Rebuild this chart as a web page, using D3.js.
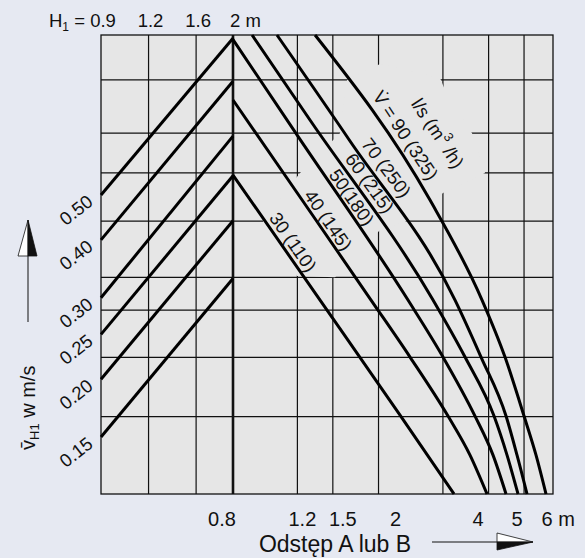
<!DOCTYPE html>
<html>
<head>
<meta charset="utf-8">
<script src="https://cdn.jsdelivr.net/npm/d3@7"></script>
<style>
  body { margin: 0; background: #e6e9f2; }
  svg { display: block; font-family: "Liberation Sans", Arial, sans-serif; }
</style>
</head>
<body>
<script>
/* Data
   ========================================================================== */
// H1 scale on the left part of the chart (m)
var hValues = [0.9, 1.2, 1.6, 2];
// distance A or B (m), log axis
var distGrid = [0.8, 1.2, 1.5, 2, 3, 4, 5, 6];
var distLabels = ["0.8", "1.2", "1.5", "2", "", "4", "5", "6"];
// auxiliary level (velocity at H1 = 0.9 m) of the horizontal grid lines
var levelGrid = [0.886, 0.680, 0.558, 0.439, 0.332, 0.282, 0.223, 0.166];
// velocity lines: value at H1 = 0.9 and value reached at H1 = 2 m
var velocities = [0.50, 0.40, 0.30, 0.25, 0.20, 0.15];
var levelAtH2 = [1.09, 0.88, 0.67, 0.55, 0.44, 0.33];
// volume flow curves
var flowLs = [30, 40, 50, 60, 70, 90];
var flowM3h = [110, 145, 180, 215, 250, 325];
var curve30 = [[0.8, 0.552], [1.384, 0.2965], [2.29, 0.1673], [3.217, 0.113]];
var curve40 = [[0.8, 0.802], [1.22, 0.495], [1.908, 0.2965], [2.439, 0.2233], [3.098, 0.1665], [3.558, 0.1371], [3.96, 0.113]];
var curve50 = [[0.795, 1.091], [1.197, 0.674], [2.408, 0.2965], [3.002, 0.2233], [3.672, 0.1665], [4.113, 0.1371], [4.464, 0.113]];
var curve60 = [[0.902, 1.108], [1.299, 0.726], [2.819, 0.2965], [3.448, 0.2233], [4.139, 0.1665], [4.492, 0.1371], [4.814, 0.113]];
var curve70 = [[1.055, 1.108], [1.671, 0.654], [3.238, 0.2965], [3.814, 0.2233], [4.464, 0.1665], [4.784, 0.1371], [5.095, 0.113]];
var curve90 = [[1.341, 1.108], [2.766, 0.4875], [3.838, 0.2965], [4.435, 0.2233], [5.0, 0.1665], [5.392, 0.1371], [5.742, 0.113]];
var flowCurves = [curve30, curve40, curve50, curve60, curve70, curve90];
// area around the curve labels where the grid is left out
var labelGap = [[1.569, 0.680], [1.640, 0.886], [2.019, 0.959], [2.946, 0.895], [3.040, 0.843],
                [3.603, 0.680], [3.911, 0.558], [3.002, 0.505], [2.393, 0.439], [2.019, 0.420],
                [1.521, 0.332], [1.197, 0.334], [0.966, 0.439], [1.220, 0.558]];

/* Layout
   ========================================================================== */
var W = 585, H = 558;
var margin = { top: 35, right: 32, bottom: 64, left: 101 };
var plotBg = "#e6e6e6", ink = "#111";

var svg = d3.select("body").append("svg")
    .attr("width", W)
    .attr("height", H);

var hScale = d3.scaleLog().domain([0.9, 2]).range([margin.left, 233]);
var x = d3.scaleLog().domain([0.8, 6]).range([233, W - margin.right]);
var y = d3.scaleLog().domain([0.113, 1.108]).range([H - margin.bottom, margin.top]);

var x0 = margin.left, x1 = W - margin.right, y0 = margin.top, y1 = H - margin.bottom;

// plot background
svg.append("rect")
    .attr("x", x0).attr("y", y0)
    .attr("width", x1 - x0).attr("height", y1 - y0)
    .attr("fill", plotBg);

/* Grid
   ========================================================================== */
var grid = svg.append("g").attr("stroke", ink).attr("stroke-width", 1.2);

grid.selectAll(".hl").data(levelGrid).enter().append("line")
    .attr("x1", x0).attr("x2", x1)
    .attr("y1", function(d) { return y(d); })
    .attr("y2", function(d) { return y(d); });

grid.selectAll(".vh").data(hValues.slice(1, 3)).enter().append("line")
    .attr("x1", function(d) { return hScale(d); })
    .attr("x2", function(d) { return hScale(d); })
    .attr("y1", y0).attr("y2", y1);

grid.selectAll(".vd").data(distGrid.slice(1, -1)).enter().append("line")
    .attr("x1", function(d) { return x(d); })
    .attr("x2", function(d) { return x(d); })
    .attr("y1", y0).attr("y2", y1);

// blank the grid behind the labels
svg.append("path")
    .attr("d", d3.line().x(function(d) { return x(d[0]); }).y(function(d) { return y(d[1]); })(labelGap) + "Z")
    .attr("fill", plotBg);

// heavy line at 0.8 m and frame
svg.append("line")
    .attr("x1", x(0.8)).attr("x2", x(0.8))
    .attr("y1", y0).attr("y2", y1)
    .attr("stroke", ink).attr("stroke-width", 2.6);
svg.append("rect")
    .attr("x", x0).attr("y", y0)
    .attr("width", x1 - x0).attr("height", y1 - y0)
    .attr("fill", "none").attr("stroke", ink).attr("stroke-width", 1.3);

/* Velocity lines (left part)
   ========================================================================== */
svg.selectAll(".vel").data(velocities).enter().append("line")
    .attr("x1", hScale(0.9))
    .attr("y1", function(d) { return y(d); })
    .attr("x2", hScale(2))
    .attr("y2", function(d, i) { return y(levelAtH2[i]); })
    .attr("stroke", "#000").attr("stroke-width", 3);

svg.selectAll(".vlab").data(velocities).enter().append("text")
    .attr("transform", function(d) {
        return "translate(" + (hScale(0.9) - 25) + "," + (y(d) + 15) + ") rotate(-38)";
    })
    .attr("text-anchor", "middle")
    .attr("dy", "0.35em")
    .attr("font-size", 18.5)
    .attr("fill", ink)
    .text(function(d) { return d.toFixed(2); });

/* Flow curves
   ========================================================================== */
var line = d3.line()
    .x(function(d) { return x(d[0]); })
    .y(function(d) { return y(d[1]); })
    .curve(d3.curveMonotoneX);

var paths = svg.selectAll(".flow").data(flowCurves).enter().append("path")
    .attr("d", line)
    .attr("fill", "none")
    .attr("stroke", "#000")
    .attr("stroke-width", 3);

// label placement along each curve: fraction of length, offset to the upper right
var labelPlace = [[0.23, 11], [0.326, 10], [0.373, 10], [0.354, 12], [0.326, 14], [0.258, 13]];

function placeOnPath(node, frac, off) {
    var L = node.getTotalLength();
    var p = node.getPointAtLength(frac * L);
    var a = node.getPointAtLength(Math.max(0, frac * L - 3));
    var b = node.getPointAtLength(Math.min(L, frac * L + 3));
    var dx = b.x - a.x, dy = b.y - a.y, n = Math.sqrt(dx * dx + dy * dy);
    var ux = dx / n, uy = dy / n;
    return { x: p.x + uy * off, y: p.y - ux * off, ux: ux, uy: uy,
             angle: Math.atan2(dy, dx) * 180 / Math.PI };
}

paths.each(function(d, i) {
    var pos = placeOnPath(this, labelPlace[i][0], labelPlace[i][1]);
    var sep = (flowLs[i] === 50) ? "" : " ";
    var t = svg.append("text")
        .attr("transform", "translate(" + pos.x + "," + pos.y + ") rotate(" + pos.angle + ")")
        .attr("text-anchor", "middle")
        .attr("dy", "0.35em")
        .attr("font-size", 18.5)
        .attr("fill", ink);
    if (flowLs[i] === 90) {
        t.text("V\u0307 = " + flowLs[i] + " (" + flowM3h[i] + ")");
        // unit line above
        var q = { x: pos.x + pos.uy * 28 + pos.ux * 16, y: pos.y - pos.ux * 28 + pos.uy * 16 };
        var u = svg.append("text")
            .attr("transform", "translate(" + q.x + "," + q.y + ") rotate(" + pos.angle + ")")
            .attr("text-anchor", "middle")
            .attr("dy", "0.35em")
            .attr("font-size", 18.5)
            .attr("fill", ink);
        u.append("tspan").text("l/s (m");
        u.append("tspan").attr("font-size", 13).attr("dy", "-0.7em").text("3");
        u.append("tspan").attr("dy", "0.5em").text(" /h)");
    } else {
        t.text(flowLs[i] + sep + "(" + flowM3h[i] + ")");
    }
});

/* Axis texts
   ========================================================================== */
// top: H1 values
var topAxis = svg.append("g").attr("font-size", 18.5).attr("fill", ink);
var hLab = topAxis.append("text").attr("x", 85).attr("y", 27).attr("text-anchor", "end");
hLab.append("tspan").text("H");
hLab.append("tspan").attr("font-size", 12).attr("dy", 4).text("1");
hLab.append("tspan").attr("dy", -4).text(" =");
topAxis.selectAll(".ht").data(hValues).enter().append("text")
    .attr("x", function(d, i) { return i === hValues.length - 1 ? hScale(d) - 3 : hScale(d) + 2; })
    .attr("y", 27)
    .attr("text-anchor", function(d, i) { return i === hValues.length - 1 ? "start" : "middle"; })
    .text(function(d, i) { return i === hValues.length - 1 ? d + " m" : d; });

// bottom: distance labels (nudged as printed)
var nudge = [-11, 5, 10, 17, 0, -10.5, -7, -11.5];
svg.append("g").attr("font-size", 20).attr("fill", ink)
    .selectAll("text").data(distGrid).enter().append("text")
    .filter(function(d, i) { return distLabels[i] !== ""; })
    .attr("x", function(d) { var i = distGrid.indexOf(d); return x(d) + nudge[i]; })
    .attr("y", 526)
    .attr("text-anchor", function(d) { return d === 6 ? "start" : "middle"; })
    .text(function(d) { var i = distGrid.indexOf(d); return d === 6 ? distLabels[i] + " m" : distLabels[i]; });

svg.append("text")
    .attr("x", 335).attr("y", 552)
    .attr("text-anchor", "middle")
    .attr("font-size", 23)
    .attr("fill", ink)
    .text("Odstęp A lub B");

// bottom arrow
svg.append("line").attr("x1", 432).attr("x2", 498).attr("y1", 542).attr("y2", 542)
    .attr("stroke", ink).attr("stroke-width", 1);
svg.append("path").attr("d", "M497,533 L533,542 L497,542 Z")
    .attr("fill", "#fff").attr("stroke", ink).attr("stroke-width", 0.8);
svg.append("path").attr("d", "M497,542 L533,542 L497,550 Z")
    .attr("fill", ink).attr("stroke", ink).attr("stroke-width", 0.8);

// left title and arrow
var yt = svg.append("text")
    .attr("transform", "translate(35,450) rotate(-90)")
    .attr("font-size", 20)
    .attr("fill", ink);
yt.append("tspan").text("v\u0304");
yt.append("tspan").attr("font-size", 13).attr("dy", 4).text("H1");
yt.append("tspan").attr("dy", -4).text("  w m/s");

svg.append("line").attr("x1", 28).attr("x2", 28).attr("y1", 322).attr("y2", 255)
    .attr("stroke", ink).attr("stroke-width", 1);
svg.append("path").attr("d", "M28,220 L18,256 L28,256 Z")
    .attr("fill", "#fff").attr("stroke", ink).attr("stroke-width", 0.8);
svg.append("path").attr("d", "M28,220 L37,256 L28,256 Z")
    .attr("fill", ink).attr("stroke", ink).attr("stroke-width", 0.8);
</script>
</body>
</html>
